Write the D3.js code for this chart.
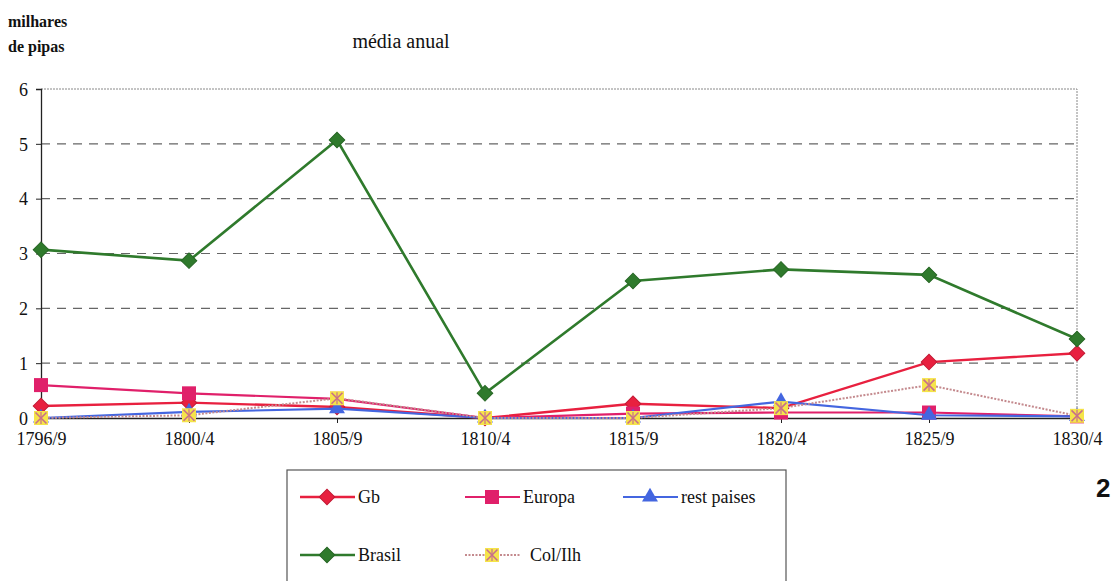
<!DOCTYPE html>
<html><head><meta charset="utf-8">
<script src="https://cdn.jsdelivr.net/npm/d3@7"></script>
<style>body{margin:0;background:#fff}</style>
</head><body>
<svg id="c" width="1113" height="581"></svg>
<script>
const categories = ["1796/9","1800/4","1805/9","1810/4","1815/9","1820/4","1825/9","1830/4"];
const gb        = [0.22, 0.28, 0.20, 0.00, 0.26, 0.18, 1.02, 1.18];
const europa    = [0.60, 0.45, 0.35, 0.00, 0.08, 0.10, 0.10, 0.03];
const restPaises= [0.00, 0.11, 0.17, 0.00, 0.00, 0.30, 0.05, 0.03];
const brasil    = [3.07, 2.87, 5.07, 0.45, 2.50, 2.71, 2.61, 1.44];
const colIlh    = [0.00, 0.05, 0.36, 0.00, 0.00, 0.18, 0.60, 0.04];
const yTicks = [0,1,2,3,4,5,6];

const SERIF = "'Liberation Serif', LiberationSerif, Tinos, 'Noto Serif', 'DejaVu Serif', FreeSerif, Times, 'Times New Roman', serif";

const series = [
  {name:"Gb", values:gb, color:"#e8203f", marker:"diamond", width:2.4},
  {name:"Europa", values:europa, color:"#e0206a", marker:"square", width:2.2},
  {name:"rest paises", values:restPaises, color:"#4466e0", marker:"triangle", width:2.2},
  {name:"Brasil", values:brasil, color:"#2f7a2c", marker:"diamond", width:2.6},
  {name:"Col/Ilh", values:colIlh, color:"#c48a8e", marker:"colilh", width:2, dash:"2,1.5"}
];

const svg = d3.select("#c");
const L=41, R=1077, T=89, B=418;
const x = d3.scalePoint().domain(categories).range([L,R]).padding(0);
const y = d3.scaleLinear().domain([0,6]).range([B,T]);

svg.append("g").selectAll("line").data(yTicks.filter(d=>d>0&&d<6)).join("line")
  .attr("x1",L).attr("x2",R).attr("y1",d=>y(d)).attr("y2",d=>y(d))
  .attr("stroke","#666").attr("stroke-width",1.2).attr("stroke-dasharray","9,7");
svg.append("path").attr("d",`M${L},${y(6)}H${R}V${B}`).attr("fill","none")
  .attr("stroke","#888").attr("stroke-width",1).attr("stroke-dasharray","2,1");

const yAxis = d3.axisLeft(y).tickValues(yTicks).tickSize(5).tickFormat(d3.format("d"));
const gy = svg.append("g").attr("transform",`translate(${L},0)`).call(yAxis);
gy.attr("font-family",null);
gy.select(".domain").attr("stroke","#222").attr("stroke-width",1.3);
gy.selectAll(".tick line").attr("stroke","#222");
gy.selectAll(".tick text").attr("x",-13).attr("dy","0.35em")
  .style("font-family",SERIF).style("font-size","18px").attr("fill","#111");

const xAxis = d3.axisBottom(x).tickSize(5);
const gx = svg.append("g").attr("transform",`translate(0,${B})`).call(xAxis);
gx.attr("font-family",null);
gx.select(".domain").attr("stroke","#222").attr("stroke-width",1.3);
gx.selectAll(".tick line").attr("stroke","#222");
gx.selectAll(".tick text").attr("y",21).attr("dy","0.35em")
  .style("font-family",SERIF).style("font-size","18px").attr("fill","#111");

function drawMarker(g, type, color, cx, cy){
  if(type==="diamond"){
    g.append("rect").attr("x",-5.5).attr("y",-5.5).attr("width",11).attr("height",11)
     .attr("transform",`translate(${cx},${cy}) rotate(45)`).attr("fill",color)
     .attr("stroke",d3.color(color).darker(0.5)).attr("stroke-width",1);
  } else if(type==="square"){
    g.append("rect").attr("x",cx-7).attr("y",cy-7).attr("width",14).attr("height",14).attr("fill",color);
  } else if(type==="triangle"){
    g.append("path").attr("d",d3.symbol(d3.symbolTriangle,110)()).attr("transform",`translate(${cx},${cy})`).attr("fill",color);
  } else if(type==="colilh"){
    g.append("rect").attr("x",cx-7).attr("y",cy-7).attr("width",14).attr("height",14).attr("fill","#f5e44a");
    g.append("path").attr("d",d3.symbol(d3.symbolTimes,80)()).attr("transform",`translate(${cx},${cy})`)
     .attr("fill","none").attr("stroke","#c8708a").attr("stroke-width",1.6);
    g.append("path").attr("d",`M${cx},${cy-6}V${cy+6}`).attr("stroke","#c8708a").attr("stroke-width",1.2);
  }
}

const line = d3.line().x((d,i)=>x(categories[i])).y(d=>y(d));
series.forEach(s=>{
  const g = svg.append("g");
  g.append("path").datum(s.values).attr("d",line).attr("fill","none")
   .attr("stroke",s.color).attr("stroke-width",s.width).attr("stroke-dasharray",s.dash||null);
  s.values.forEach((v,i)=>drawMarker(g,s.marker,s.color,x(categories[i]),y(v)));
});

function txt(xp,yp,size,str,anchor){
  return svg.append("text").attr("x",xp).attr("y",yp).attr("text-anchor",anchor||"start")
    .style("font-family",SERIF).style("font-size",size+"px").attr("fill","#111").text(str);
}
txt(8,27,16,"milhares").style("font-weight","bold");
txt(8,52,16,"de pipas").style("font-weight","bold");
txt(401,48,20,"média anual","middle");
svg.append("text").attr("x",1096).attr("y",497).style("font-size","26px").style("font-weight","bold")
  .style("font-family","'Liberation Sans', Arial, sans-serif").attr("fill","#111").text("2");

const lg = svg.append("g");
lg.append("rect").attr("x",287).attr("y",470).attr("width",499).attr("height",120)
  .attr("fill","none").attr("stroke","#555").attr("stroke-width",1.2);
const legendItems = [
  {s:"Gb", lx:300, ly:497},{s:"Europa", lx:465, ly:497},{s:"rest paises", lx:623, ly:497},
  {s:"Brasil", lx:300, ly:555},{s:"Col/Ilh", lx:465, ly:555}
];
legendItems.forEach(it=>{
  const s = series.find(d=>d.name===it.s);
  lg.append("line").attr("x1",it.lx).attr("x2",it.lx+55).attr("y1",it.ly).attr("y2",it.ly)
    .attr("stroke",s.color).attr("stroke-width",s.width).attr("stroke-dasharray",s.dash||null);
  drawMarker(lg,s.marker,s.color,it.lx+27,it.ly);
  lg.append("text").attr("x",it.lx+(it.s==="Col/Ilh"?65:58)).attr("y",it.ly).attr("dy","0.35em")
    .style("font-family",SERIF).style("font-size","18px").attr("fill","#111").text(it.s);
});
</script>
</body></html>
